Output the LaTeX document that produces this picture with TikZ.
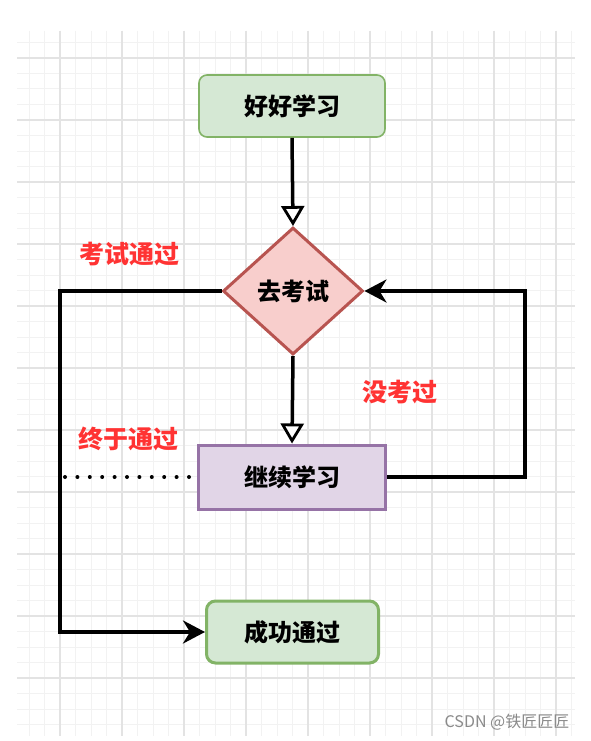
\documentclass[tikz,border=0pt]{standalone}
\usepackage{fontspec}
\setmainfont{Noto Sans CJK SC}
\usetikzlibrary{arrows.meta,shapes.geometric}
\definecolor{gminor}{HTML}{F2F2F2}
\definecolor{gmajor}{HTML}{E3E3E3}
\definecolor{greenfill}{HTML}{D5E8D4}
\definecolor{greendraw}{HTML}{82B366}
\definecolor{redfill}{HTML}{F8CECC}
\definecolor{reddraw}{HTML}{B85450}
\definecolor{purplefill}{HTML}{E1D5E7}
\definecolor{purpledraw}{HTML}{9673A6}
\definecolor{labelred}{HTML}{FF3333}
\definecolor{wmgray}{HTML}{8A8A8A}
\tikzset{
  boxtext/.style={font=\fontsize{24}{27}\selectfont\bfseries, text=black, inner sep=0pt},
  startbox/.style={boxtext, rectangle, rounded corners=8pt, fill=greenfill, draw=greendraw, line width=1.6pt, minimum width=186pt, minimum height=62pt},
  endbox/.style={boxtext, rectangle, rounded corners=9pt, fill=greenfill, draw=greendraw, line width=3pt, minimum width=172pt, minimum height=62pt},
  decbox/.style={boxtext, diamond, fill=redfill, draw=reddraw, line width=3pt, minimum width=140pt, minimum height=127pt},
  procbox/.style={boxtext, rectangle, fill=purplefill, draw=purpledraw, line width=3pt, minimum width=187pt, minimum height=64pt},
  edgelabel/.style={font=\fontsize{25}{28}\selectfont\bfseries, text=labelred, inner sep=0pt},
  conn/.style={line width=3.5pt, draw=black},
  openarrow/.style={conn, -{Triangle[length=20pt,width=23pt,fill=white,line width=2.8pt]}},
  fillarrow/.style={conn, -{Stealth[length=22pt,width=23pt,inset=7pt]}},
}
\begin{document}
\begin{tikzpicture}[x=1pt,y=-1pt]
\useasboundingbox (0,0) rectangle (591,741);
\fill[white] (0,0) rectangle (591,741);
% grid
\begin{scope}
\clip (17,31) rectangle (575,736);
\foreach \i in {-3,...,36} {
  \draw[gminor, line width=1pt] ({60+15.5*\i},31) -- ({60+15.5*\i},736);
}
\foreach \j in {-2,...,45} {
  \draw[gminor, line width=1pt] (17,{58+15.5*\j}) -- (575,{58+15.5*\j});
}
\foreach \i in {-1,...,9} {
  \draw[gmajor, line width=1.2pt] ({60+62*\i},31) -- ({60+62*\i},736);
}
\foreach \j in {-1,...,11} {
  \draw[gmajor, line width=1.2pt] (17,{58+62*\j}) -- (575,{58+62*\j});
}
\end{scope}

\node[startbox] (start) at (292,106) {好好学习};
\node[decbox] (test) at (293,291) {去考试};
\node[procbox] (cont) at (292,477) {继续学习};
\node[endbox] (succ) at (292.5,632) {成功通过};

\coordinate (L) at (60,291);
\coordinate (R) at (525,477);
\coordinate (D) at (65,477);

\draw[openarrow] (start.south) -- (test.north);
\draw[openarrow] (test.south) -- (cont.north);
\draw[fillarrow] (cont.east) -- (R) |- (test.east);
\draw[fillarrow] (test.west) -- (L) |- (succ.west);
\draw[line width=4pt, line cap=round, dash pattern=on 0pt off 12.4pt] (cont.west) ++(-8,0) -- (D);

\node[edgelabel] (l1) at (129,254) {考试通过};
\node[edgelabel] (l2) at (400,392) {没考过};
\node[edgelabel] (l3) at (128.5,439) {终于通过};

\node[font=\fontsize{16}{18}\selectfont, text=wmgray, inner sep=0pt] (wm) at (507,722) {CSDN @铁匠匠匠};
\end{tikzpicture}
\end{document}
